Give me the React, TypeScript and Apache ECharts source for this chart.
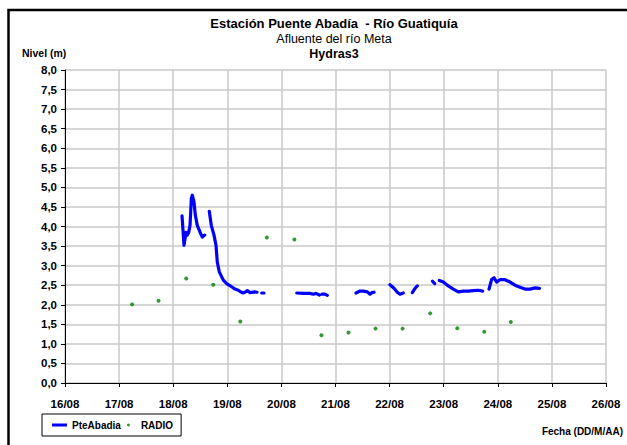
import React, { useEffect, useRef } from "react";
import * as echarts from "echarts";

// Day-of-month (August) as decimal day, and level in metres
const pteSeg1 = [[18.163, 4.27], [18.2, 3.52], [18.237, 3.85], [18.261, 3.78], [18.286, 3.85], [18.311, 4.03], [18.335, 4.71], [18.353, 4.8], [18.384, 4.63], [18.409, 4.29], [18.445, 4.03], [18.495, 3.86], [18.538, 3.73], [18.582, 3.78]];
const pteSeg2 = [[18.667, 4.39], [18.704, 4.03], [18.754, 3.78], [18.791, 3.52], [18.815, 3.09], [18.852, 2.84], [18.926, 2.63], [18.989, 2.54], [19.081, 2.46], [19.142, 2.4], [19.203, 2.37], [19.248, 2.33], [19.29, 2.3], [19.327, 2.32], [19.37, 2.36], [19.42, 2.31], [19.512, 2.33], [19.549, 2.32]];
const pteSeg3 = [[19.636, 2.3], [19.678, 2.3]];
const pteSeg4 = [[20.283, 2.3], [20.405, 2.29], [20.529, 2.29], [20.59, 2.27], [20.64, 2.29], [20.701, 2.25]];
const pteSeg5 = [[20.75, 2.27], [20.806, 2.27], [20.848, 2.24]];
const pteSeg6 = [[21.379, 2.3], [21.453, 2.35], [21.514, 2.35], [21.588, 2.33], [21.638, 2.27], [21.675, 2.31], [21.712, 2.32]];
const pteSeg7 = [[22.007, 2.51], [22.081, 2.42], [22.142, 2.32], [22.192, 2.27], [22.253, 2.3]];
const pteSeg8 = [[22.42, 2.31], [22.47, 2.42], [22.512, 2.48]];
const pteSeg9 = [[22.793, 2.6], [22.834, 2.54]];
const pteSeg10 = [[22.919, 2.62], [22.993, 2.58], [23.085, 2.48], [23.178, 2.4], [23.27, 2.33], [23.362, 2.35], [23.455, 2.35], [23.547, 2.36], [23.64, 2.37], [23.721, 2.35]];
const pteSeg11 = [[23.837, 2.4], [23.887, 2.65], [23.93, 2.69], [23.98, 2.58], [24.041, 2.64], [24.133, 2.64], [24.226, 2.58], [24.318, 2.5], [24.41, 2.45], [24.503, 2.4], [24.595, 2.4], [24.688, 2.43], [24.771, 2.42]];

const radioDays = [17.24, 17.73, 18.24, 18.74, 19.24, 19.73, 20.24, 20.74, 21.24, 21.74, 22.24, 22.75, 23.25, 23.75, 24.24];
const radioLevels = [2.01, 2.1, 2.67, 2.51, 1.57, 3.72, 3.67, 1.22, 1.29, 1.39, 1.39, 1.78, 1.4, 1.31, 1.56];

const titleMain = "Estación Puente Abadía  - Río Guatiquía";
const titleSub = "Afluente del río Meta";
const titleStation = "Hydras3";
const yAxisTitle = "Nivel (m)";
const xAxisTitle = "Fecha (DD/M/AA)";

const FONT = "'Liberation Sans', Arial, sans-serif";

export default function App() {
  const ref = useRef<HTMLDivElement>(null);
  useEffect(() => {
    if (!ref.current) return;
    const chart = echarts.init(ref.current, null, { renderer: "svg" });
    const segs = [pteSeg1, pteSeg2, pteSeg3, pteSeg4, pteSeg5, pteSeg6, pteSeg7, pteSeg8, pteSeg9, pteSeg10, pteSeg11];
    const lineData: any[] = [];
    segs.forEach((s, i) => {
      if (i > 0) lineData.push([s[0][0] - 0.001, "-"]);
      s.forEach((p) => lineData.push(p));
    });
    const radioData = radioDays.map((d, i) => [d, radioLevels[i]]);
    chart.setOption({
      animation: false,
      backgroundColor: "#fff",
      grid: { left: 65, right: 21, top: 70, bottom: 62 },
      graphic: [
        { type: "rect", shape: { x: 8.5, y: 10, width: 800, height: 600 }, style: { fill: "none", stroke: "#000", lineWidth: 2.5 }, silent: true },
        { type: "text", x: 334, y: 23, style: { text: titleMain, font: `bold 13px ${FONT}`, fill: "#000", align: "center", verticalAlign: "middle" } },
        { type: "text", x: 334, y: 39, style: { text: titleSub, font: `12.5px ${FONT}`, fill: "#000", align: "center", verticalAlign: "middle" } },
        { type: "text", x: 334, y: 54, style: { text: titleStation, font: `bold 12.5px ${FONT}`, fill: "#000", align: "center", verticalAlign: "middle" } },
        { type: "text", x: 22, y: 53, style: { text: yAxisTitle, font: `bold 10.5px ${FONT}`, fill: "#000", align: "left", verticalAlign: "middle" } },
        { type: "text", x: 623, y: 431, style: { text: xAxisTitle, font: `bold 10px ${FONT}`, fill: "#000", align: "right", verticalAlign: "middle" } },
      ],
      legend: {
        left: 42,
        top: 414,
        orient: "horizontal",
        borderColor: "#000",
        borderWidth: 1,
        borderRadius: 0,
        padding: [6, 8, 6, 10],
        itemGap: 6,
        itemWidth: 15,
        itemHeight: 3,
        textStyle: { fontFamily: FONT, fontWeight: "bold", fontSize: 10, color: "#000" },
        data: [
          { name: "PteAbadia", icon: "rect" },
          { name: "RADIO", icon: "circle" },
        ],
      },
      xAxis: {
        type: "value",
        min: 16,
        max: 26,
        interval: 1,
        axisLine: { show: true, onZero: false, lineStyle: { color: "#000", width: 1 } },
        axisTick: { show: true, length: 4, lineStyle: { color: "#000" } },
        axisLabel: {
          margin: 15,
          color: "#000",
          fontFamily: FONT,
          fontWeight: "bold",
          fontSize: 11.5,
          formatter: (v: number) => String(v).padStart(2, "0") + "/08",
        },
        splitLine: { show: true, lineStyle: { color: "#c8c8c8", width: 1.5 } },
      },
      yAxis: {
        type: "value",
        min: 0,
        max: 8,
        interval: 0.5,
        axisLine: { show: true, lineStyle: { color: "#000", width: 1 } },
        axisTick: { show: true, length: 4, lineStyle: { color: "#000" } },
        axisLabel: {
          margin: 8,
          color: "#000",
          fontFamily: FONT,
          fontWeight: "bold",
          fontSize: 11.5,
          formatter: (v: number) => v.toFixed(1).replace(".", ","),
        },
        splitLine: { show: true, lineStyle: { color: "#c8c8c8", width: 1.5 } },
      },
      series: [
        {
          name: "PteAbadia",
          type: "line",
          data: lineData,
          showSymbol: false,
          symbol: "none",
          connectNulls: false,
          color: "#0000ff",
          lineStyle: { color: "#0000ff", width: 3.2, cap: "round", join: "round" },
          z: 3,
        },
        {
          name: "RADIO",
          type: "scatter",
          data: radioData,
          symbol: "circle",
          symbolSize: 4,
          color: "#008000",
          itemStyle: { color: "#008000" },
          z: 4,
        },
      ],
    });
    return () => chart.dispose();
  }, []);
  return (
    <div style={{ position: "absolute", left: 0, top: 0, width: 627, height: 445, background: "#fff" }}>
      <div ref={ref} style={{ width: 627, height: 445 }} />
    </div>
  );
}
